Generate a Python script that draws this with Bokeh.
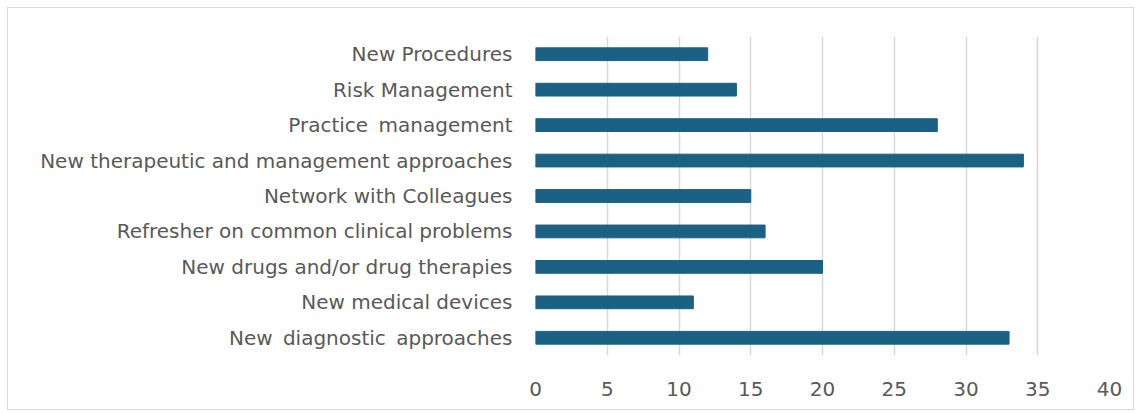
from bokeh.plotting import figure
from bokeh.models import FixedTicker
from bokeh.embed import file_html
from bokeh.resources import INLINE

categories = [
    "New\u2009 diagnostic\u2009 approaches",
    "New medical devices",
    "New drugs and/or drug therapies",
    "Refresher on common clinical problems",
    "Network with Colleagues",
    "New therapeutic and management approaches",
    "Practice\u2009 management",
    "Risk Management",
    "New Procedures",
]
values = [33, 11, 20, 16, 15, 34, 28, 14, 12]
x_ticks = [0, 5, 10, 15, 20, 25, 30, 35, 40]

FONT = "DejaVu Sans"
TXT = "#595959"

p = figure(
    y_range=categories, x_range=(0, 40),
    width=1127, height=403,
    output_backend="svg", toolbar_location=None,
    min_border_left=527, min_border_right=26,
    min_border_top=28, min_border_bottom=56,
)
p.styles = {"border": "1.5px solid #d9d9d9", "margin": "7px 0 0 7px"}
p.outline_line_color = None

p.hbar(y=categories, right=values, left=0, height=0.36, color="#1a6184")

p.xaxis.ticker = FixedTicker(ticks=x_ticks)
p.xaxis.axis_line_color = None
p.xaxis.major_tick_line_color = None
p.xaxis.minor_tick_line_color = None
p.xaxis.major_label_text_font = FONT
p.xaxis.major_label_text_font_size = "20px"
p.xaxis.major_label_text_color = TXT
p.xaxis.major_label_standoff = 20

p.yaxis.axis_line_color = None
p.yaxis.major_tick_line_color = None
p.yaxis.major_label_text_font = FONT
p.yaxis.major_label_text_font_size = "20px"
p.yaxis.major_label_text_color = TXT
p.yaxis.major_label_standoff = 17

p.xgrid.grid_line_color = "#d9d9d9"
p.xgrid.grid_line_width = 1.5
p.ygrid.grid_line_color = None

open("out.html", "w").write(file_html(p, INLINE))
